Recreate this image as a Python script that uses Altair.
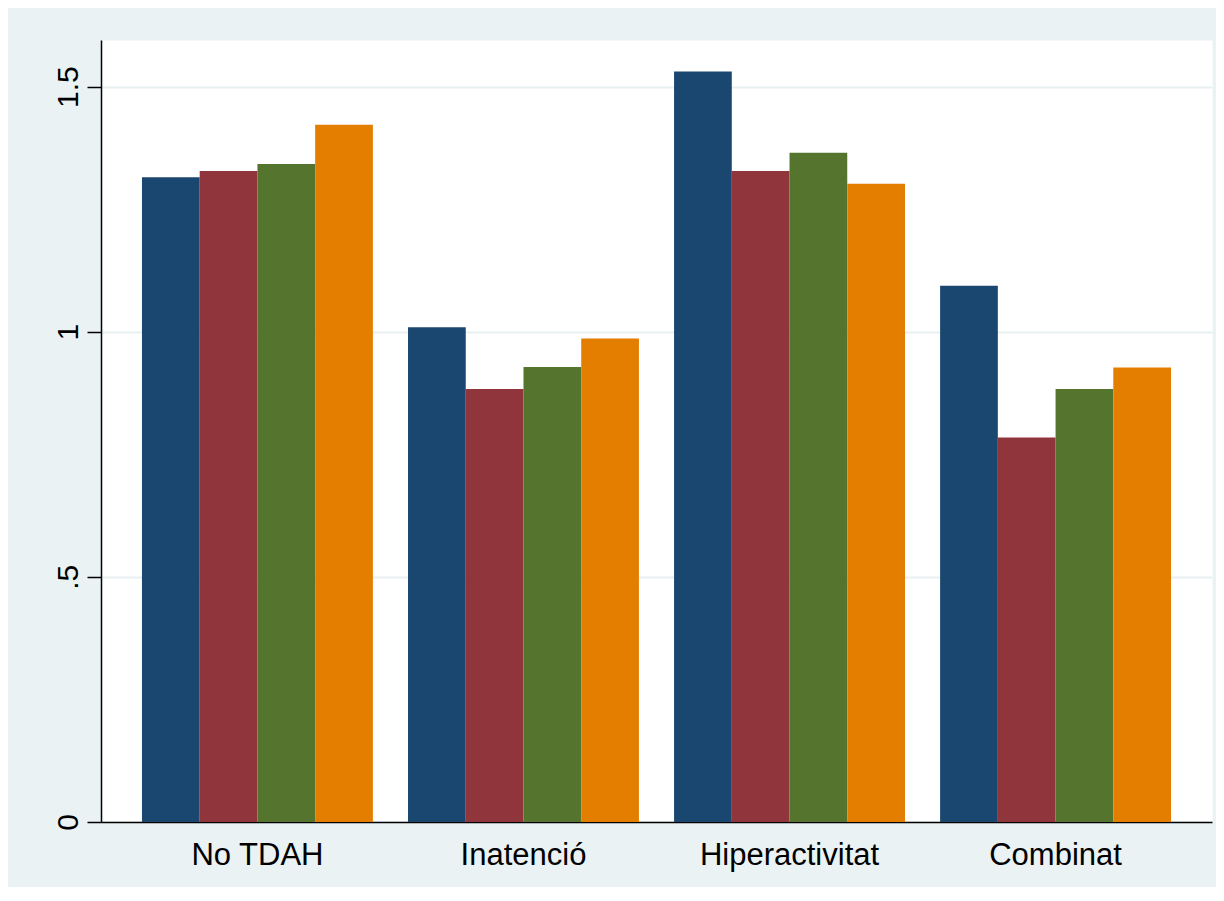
import altair as alt
import pandas as pd

categories = ["No TDAH", "Inatenció", "Hiperactivitat", "Combinat"]
series = ["Grup 1", "Grup 2", "Grup 3", "Grup 4"]
values_g1 = [1.315, 1.009, 1.531, 1.094]
values_g2 = [1.328, 0.883, 1.328, 0.784]
values_g3 = [1.342, 0.928, 1.365, 0.883]
values_g4 = [1.422, 0.986, 1.302, 0.927]
colors = ["#1A476F", "#90353B", "#55752F", "#E37E00"]
y_ticks = [0, 0.5, 1, 1.5]

rows = []
for s, vals in zip(series, [values_g1, values_g2, values_g3, values_g4]):
    for c, v in zip(categories, vals):
        rows.append({"category": c, "series": s, "value": v})
df = pd.DataFrame(rows)

FONT = "Liberation Sans"

chart = alt.Chart(df).mark_bar().encode(
    x=alt.X(
        "category:N",
        sort=categories,
        scale=alt.Scale(paddingInner=0.132, paddingOuter=0.154),
        axis=alt.Axis(
            title=None, labelAngle=0, ticks=False, tickSize=0, grid=False,
            domainColor="black", domainWidth=1.5,
            labelFont=FONT, labelFontSize=31, labelColor="black",
            labelBaseline="top", labelPadding=18,
        ),
    ),
    xOffset=alt.XOffset("series:N", sort=series,
                        scale=alt.Scale(paddingInner=0, paddingOuter=0)),
    y=alt.Y(
        "value:Q",
        scale=alt.Scale(domain=[0, 1.595], nice=False, zero=True),
        axis=alt.Axis(
            title=None, values=y_ticks, format=".1~f",
            labelExpr="datum.value == 0.5 ? '.5' : datum.label",
            labelAngle=270, labelAlign="center", labelBaseline="alphabetic",
            labelPadding=10, labelFont=FONT, labelFontSize=30, labelColor="black",
            tickSize=14, tickColor="black", tickWidth=1.5,
            domainColor="black", domainWidth=1.5,
            grid=True, gridColor="#E8F0F2", gridWidth=2,
        ),
    ),
    color=alt.Color("series:N", sort=series,
                    scale=alt.Scale(domain=series, range=colors), legend=None),
).properties(
    width=1111,
    height=782,
    padding={"left": 93, "top": 32, "right": 4, "bottom": 65},
    autosize="none",
).configure(
    background="#EAF2F3",
).configure_view(
    fill="white", stroke="transparent",
)

chart.save("out.html", embed_options={"renderer": "svg", "actions": False})
